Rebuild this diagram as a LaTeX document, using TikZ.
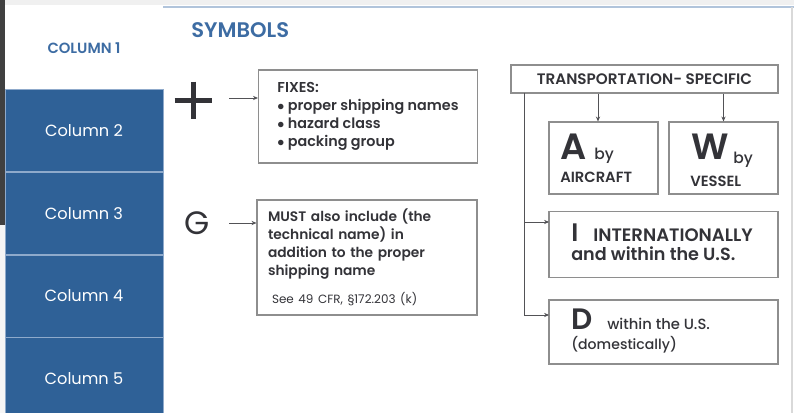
\documentclass[tikz,border=0pt]{standalone}
\usepackage{fontspec}
\setmainfont{Poppins}[UprightFont=* Medium, BoldFont=* SemiBold]
\newfontfamily\regfont{Poppins}
\usepackage{xcolor}
\usepackage{tikz}
\usetikzlibrary{arrows.meta}

\definecolor{colblue}{HTML}{2F6197}
\definecolor{sepblue}{HTML}{8FAACB}
\definecolor{headblue}{HTML}{3D6CA3}
\definecolor{ink}{HTML}{333338}
\definecolor{boxline}{HTML}{8E8E8E}
\newcommand{\pxl}{0.025cm}

\begin{document}
\begin{tikzpicture}[x=0.025cm, y=-0.025cm,
    box/.style={draw=boxline, line width=0.8pt, rectangle, inner sep=0pt, text=ink},
    colbox/.style={fill=colblue, draw=sepblue, line width=0.6pt, minimum width=158*\pxl,
        minimum height=82*\pxl, text=white, font=\regfont\fontsize{11.5}{13}\selectfont},
    txt/.style={anchor=base west, inner sep=0pt, text=ink},
    link/.style={draw=ink!85, line width=0.5pt, -{Stealth[length=3.5pt,width=3pt]}}]
    \useasboundingbox (0,0) rectangle (794,413);

    % page frame
    \fill[gray!12] (5,0) rectangle (794,5);
    \fill[black!75] (0,0) rectangle (5,225);
    \fill[gray!8] (0,225) rectangle (5,413);
    \draw[sepblue!70, line width=1.2pt] (163,7) -- (794,7);
    \draw[gray!30, line width=0.8pt] (792,7) -- (792,413);

    % columns
    \node[text=headblue, font=\bfseries\fontsize{10.5}{12}\selectfont] (col1) at (84,48) {COLUMN 1};
    \foreach \n/\yc in {2/130.5, 3/213.5, 4/296, 5/378.5}
        \node[colbox] (col\n) at (84,\yc) {Column \n};

    \node[txt, text=headblue, font=\bfseries\fontsize{15}{17}\selectfont] (symbols) at (191,38) {SYMBOLS};

    % plus symbol
    \node[minimum size=37*\pxl, inner sep=0pt] (plus) at (193.5,100.5) {};
    \draw[ink, line width=5.5*\pxl] (plus.west) -- (plus.east) (plus.north) -- (plus.south);
    \node[box, minimum width=219*\pxl, minimum height=93*\pxl, align=left,
        font=\bfseries\fontsize{10.2}{12.8}\selectfont] (fixes) at (368,116.5)
        {FIXES:\\ $\bullet$ proper shipping names\\ $\bullet$ hazard class\\ $\bullet$ packing group};
    \coordinate (plusout) at (229,98);
    \draw[link] (plusout) -- (fixes.west |- plusout);

    % G symbol
    \node[txt, font=\regfont\fontsize{23}{23}\selectfont] (gsym) at (184,234) {G};
    \node[box, minimum height=115*\pxl, text width=198*\pxl, inner xsep=11*\pxl, align=left,
        font=\bfseries\fontsize{9.8}{12.8}\selectfont] (must) at (367,257.5)
        {MUST also include (the\\ technical name) in\\ addition to the proper\\ shipping name\\[7pt]
        {\regfont\mdseries\fontsize{8.5}{9}\selectfont\hspace*{0.1cm}See 49 CFR, \S172.203 (k)}};
    \coordinate (gout) at (229,223);
    \draw[link] (gout) -- (must.west |- gout);

    % transportation-specific
    \node[box, minimum width=267*\pxl, minimum height=28*\pxl,
        font=\bfseries\fontsize{10.8}{12}\selectfont] (trans) at (644.5,79) {TRANSPORTATION- SPECIFIC};

    \node[box, minimum width=109*\pxl, minimum height=72*\pxl] (air) at (603.5,158) {};
    \node[txt, font=\bfseries\fontsize{26}{26}\selectfont] (airA) at (560,159) {A};
    \node[txt, font=\fontsize{11}{12}\selectfont] (airby) at (594,159) {by};
    \node[txt, font=\bfseries\fontsize{10.5}{12}\selectfont] (airtxt) at (560,182) {AIRCRAFT};

    \node[box, minimum width=109*\pxl, minimum height=72*\pxl] (ves) at (723.5,158) {};
    \node[txt, font=\bfseries\fontsize{26}{26}\selectfont] (vesW) at (691,159) {W};
    \node[txt, font=\fontsize{11}{12}\selectfont] (vesby) at (733,163) {by};
    \node[txt, font=\bfseries\fontsize{10.5}{12}\selectfont] (vestxt) at (690,186) {VESSEL};

    \node[box, minimum width=229*\pxl, minimum height=66*\pxl] (intl) at (663.5,244.5) {};
    \node[txt, font=\bfseries\fontsize{18}{18}\selectfont] (intlI) at (571,241) {I};
    \node[txt, font=\bfseries\fontsize{12.8}{14}\selectfont] (intltxt) at (593,241) {INTERNATIONALLY};
    \node[txt, font=\bfseries\fontsize{12.5}{14}\selectfont] (intlsub) at (571,260) {and within the U.S.};

    \node[box, minimum width=229*\pxl, minimum height=64*\pxl] (dom) at (663.5,332) {};
    \node[txt, font=\bfseries\fontsize{21}{21}\selectfont] (domD) at (571,329) {D};
    \node[txt, font=\fontsize{10.5}{12}\selectfont] (domtxt) at (607,329) {within the U.S.};
    \node[txt, font=\fontsize{10}{12}\selectfont] (domsub) at (571,349) {(domestically)};

    \draw[link] ([xshift=-5.5*\pxl]air.north |- trans.south) -- ([xshift=-5.5*\pxl]air.north);
    \draw[link] (ves.north |- trans.south) -- (ves.north);
    \coordinate (trunk) at (524,93);
    \coordinate (intlin) at (549,222);
    \coordinate (domin) at (549,315);
    \draw[link] (trunk) |- (intlin);
    \draw[link] (trunk) |- (domin);
\end{tikzpicture}
\end{document}
